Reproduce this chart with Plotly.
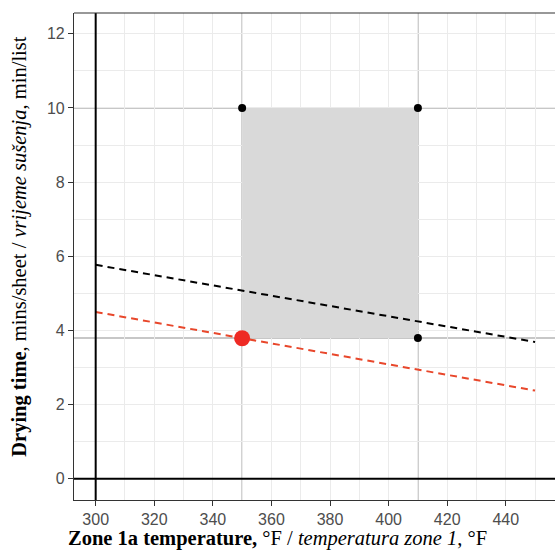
import plotly.graph_objects as go

# Data
line_x = [300, 450]
black_y = [5.77, 3.69]
red_y = [4.50, 2.38]

window_x = [350, 410]          # temperature window
window_y = [3.8, 10]           # drying-time window
corner_x = [350, 410, 410]
corner_y = [10, 10, 3.8]
opt_x = [350]
opt_y = [3.79]

x_ticks = [300, 320, 340, 360, 380, 400, 420, 440]
y_ticks = [0, 2, 4, 6, 8, 10, 12]

fig = go.Figure()

# shaded window
fig.add_shape(type="rect", xref="x", yref="y",
              x0=window_x[0], x1=window_x[1], y0=window_y[0], y1=window_y[1],
              fillcolor="#d9d9d9", line=dict(width=0), layer="between")
# gray reference lines
for xv in window_x:
    fig.add_shape(type="line", xref="x", yref="paper", x0=xv, x1=xv, y0=0, y1=1,
                  line=dict(color="#b5b5b5", width=1.5), layer="between")
for yv in window_y:
    fig.add_shape(type="line", xref="paper", yref="y", x0=0, x1=1, y0=yv, y1=yv,
                  line=dict(color="#b5b5b5", width=1.5), layer="between")
# thick black origin lines
fig.add_shape(type="line", xref="x", yref="paper", x0=300, x1=300, y0=0, y1=1,
              line=dict(color="black", width=2), layer="above")
fig.add_shape(type="line", xref="paper", yref="y", x0=0, x1=1, y0=0, y1=0,
              line=dict(color="black", width=2), layer="above")

fig.add_trace(go.Scatter(x=line_x, y=black_y, mode="lines",
                         line=dict(color="black", width=2, dash="7px,5px"),
                         showlegend=False))
fig.add_trace(go.Scatter(x=line_x, y=red_y, mode="lines",
                         line=dict(color="#e8472b", width=2, dash="7px,5px"),
                         showlegend=False))
fig.add_trace(go.Scatter(x=corner_x, y=corner_y, mode="markers",
                         marker=dict(color="black", size=8),
                         showlegend=False))
fig.add_trace(go.Scatter(x=opt_x, y=opt_y, mode="markers",
                         marker=dict(color="#ee2a24", size=16),
                         showlegend=False))

tickfont = dict(family="Liberation Sans, Arial", size=16, color="#4d4d4d")
grid = "#ebebeb"

fig.update_xaxes(range=[292.6, 456.8], tickvals=x_ticks, tickfont=tickfont,
                 showgrid=True, gridcolor=grid, gridwidth=1.2,
                 minor=dict(dtick=10, tick0=0, showgrid=True, gridcolor=grid, gridwidth=0.7),
                 ticks="outside", ticklen=5, tickcolor="#333333", tickwidth=1,
                 showline=True, linecolor="#333333", linewidth=1.2, mirror=False,
                 zeroline=False)
fig.update_yaxes(range=[-0.57, 12.56], tickvals=y_ticks, tickfont=tickfont,
                 showgrid=True, gridcolor=grid, gridwidth=1.2,
                 minor=dict(dtick=1, tick0=0, showgrid=True, gridcolor=grid, gridwidth=0.7),
                 ticks="outside", ticklen=5, tickcolor="#333333", tickwidth=1,
                 showline=True, linecolor="#333333", linewidth=1.2, mirror=False,
                 zeroline=False)

# top border line
fig.add_shape(type="line", xref="paper", yref="paper", x0=0, x1=1, y0=1, y1=1,
              line=dict(color="#333333", width=1.2))

titlefont = dict(family="Liberation Serif, Times New Roman", size=20.5, color="black")
fig.add_annotation(xref="paper", yref="paper", x=0.424, y=0, yshift=-38,
                   xanchor="center", yanchor="middle", showarrow=False,
                   text="<b>Zone 1a temperature,</b> °F / <i>temperatura zone 1</i>, °F",
                   font=titlefont)
fig.add_annotation(xref="paper", yref="paper", x=0, xshift=-54, y=0.52,
                   xanchor="center", yanchor="middle", showarrow=False, textangle=-90,
                   text="<b>Drying time</b>, mins/sheet / <i>vrijeme sušenja</i>, min/list",
                   font=titlefont)

fig.update_layout(width=555, height=551, margin=dict(l=74, r=0, t=13, b=51),
                  plot_bgcolor="white", paper_bgcolor="white")

fig.write_html("out.html")
